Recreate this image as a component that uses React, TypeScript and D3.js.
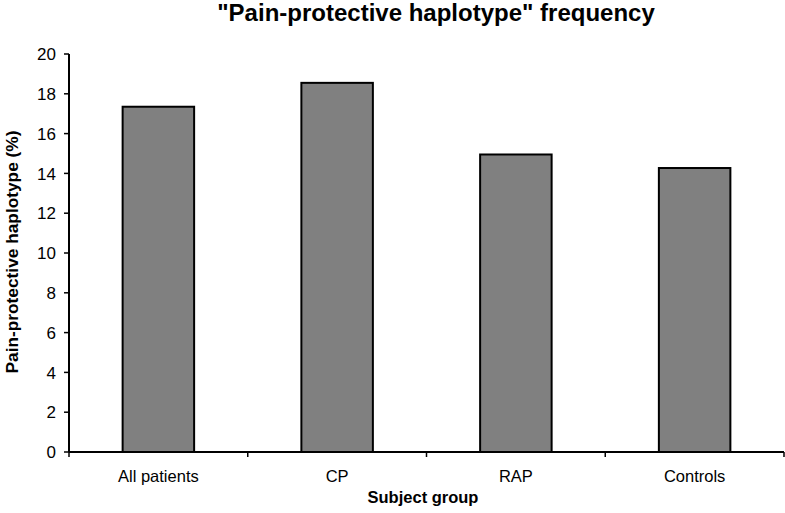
import React from "react";
import * as d3 from "d3";

const categories = ["All patients", "CP", "RAP", "Controls"];
const values = [17.35, 18.55, 14.95, 14.27];
const yTicks = [0, 2, 4, 6, 8, 10, 12, 14, 16, 18, 20];

const W = 785;
const H = 513;
const margin = { left: 69, right: 1, top: 54, bottom: 61 };

export default function App() {
  const xb = d3.scaleBand<string>().domain(categories).range([margin.left, W - margin.right]);
  const y = d3.scaleLinear().domain([0, 20]).range([H - margin.bottom, margin.top]);
  const font = "Liberation Sans, Arial, sans-serif";
  const y0 = y(0);
  const boundaries = [...categories.map((c) => xb(c)!), W - margin.right];
  const bw = xb.bandwidth() * 0.4;
  return (
    <svg width={W} height={H} style={{ position: "absolute", left: 0, top: 0, background: "#fff" }} fontFamily={font}>
      <text x={436} y={21} textAnchor="middle" fontSize={24} fontWeight="bold">
        "Pain-protective haplotype" frequency
      </text>
      {categories.map((c, i) => {
        const cx = xb(c)! + xb.bandwidth() / 2;
        return (
          <rect
            key={c}
            x={cx - bw / 2}
            y={y(values[i])}
            width={bw}
            height={y0 - y(values[i])}
            fill="#808080"
            stroke="#000"
            strokeWidth={2}
          />
        );
      })}
      <line x1={margin.left} x2={margin.left} y1={y(20)} y2={y0} stroke="#000" strokeWidth={2} />
      <line x1={margin.left} x2={W - margin.right} y1={y0} y2={y0} stroke="#000" strokeWidth={2} />
      {yTicks.map((t) => (
        <g key={t}>
          <line x1={margin.left - 5} x2={margin.left} y1={y(t)} y2={y(t)} stroke="#000" strokeWidth={1.5} />
          <text x={margin.left - 13} y={y(t)} dy="0.36em" textAnchor="end" fontSize={17}>
            {t}
          </text>
        </g>
      ))}
      {boundaries.map((b, i) => (
        <line key={i} x1={b} x2={b} y1={y0} y2={y0 + 5} stroke="#000" strokeWidth={1.5} />
      ))}
      {categories.map((c) => (
        <text key={c} x={xb(c)! + xb.bandwidth() / 2} y={y0 + 30} textAnchor="middle" fontSize={16.5}>
          {c}
        </text>
      ))}
      <text x={423} y={503} textAnchor="middle" fontSize={16.5} fontWeight="bold">
        Subject group
      </text>
      <text
        transform={`translate(18, ${252}) rotate(-90)`}
        textAnchor="middle"
        fontSize={17.3}
        fontWeight="bold"
      >
        Pain-protective haplotype (%)
      </text>
    </svg>
  );
}
